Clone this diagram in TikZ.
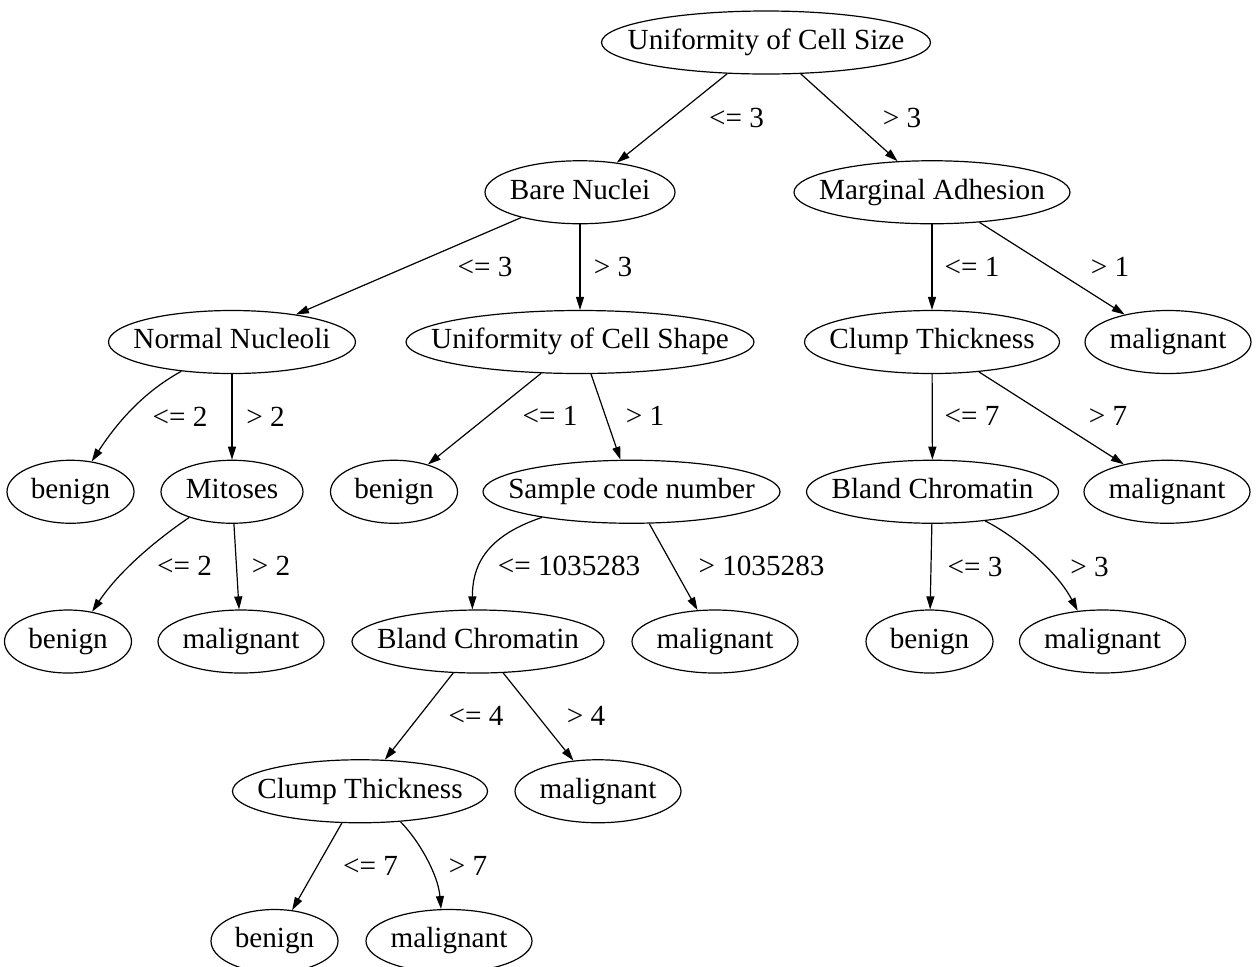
\documentclass[tikz,border=0pt]{standalone}
\usepackage{fontspec}
\setmainfont{Liberation Serif}
\usetikzlibrary{arrows.meta,shapes.geometric}

\begin{document}
\begin{tikzpicture}[x=0.5pt,y=-0.5pt,
  font=\fontsize{14.6}{17}\selectfont,
  tn/.style={ellipse,draw,line width=0.6pt,inner sep=0pt,minimum height=31.5pt,minimum width=#1,
    execute at begin node={\hbox to 0pt\bgroup\hss\strut},execute at end node={\hss\egroup}},
  benign/.style={tn=63.5pt},
  malignant/.style={tn=83pt},
  branch/.style={line width=0.6pt,-{Triangle[length=6.5pt,width=4pt]}}]
\useasboundingbox (0,0) rectangle (1258,966);
% level 0
\node[tn=164.5pt] (size) at (766,42.5) {Uniformity of Cell Size};
% level 1
\node[tn=95pt] (bare) at (580,192.25) {Bare Nuclei};
\node[tn=138pt] (adhes) at (932,192.25) {Marginal Adhesion};
% level 2
\node[tn=123.5pt] (nucleoli) at (232,342) {Normal Nucleoli};
\node[tn=174pt] (shape) at (580,342) {Uniformity of Cell Shape};
\node[tn=127.5pt] (clumpA) at (932,342) {Clump Thickness};
\node[malignant] (m1) at (1168,342) {malignant};
% level 3
\node[benign] (b1) at (70.5,491.75) {benign};
\node[tn=71pt] (mitoses) at (232,491.75) {Mitoses};
\node[benign] (b2) at (394,491.75) {benign};
\node[tn=148.5pt] (sample) at (631.5,491.75) {Sample code number};
\node[tn=126pt] (blandA) at (932.5,491.75) {Bland Chromatin};
\node[malignant] (m2) at (1167,491.75) {malignant};
% level 4
\node[benign] (b3) at (68,641.5) {benign};
\node[malignant] (m3) at (241,641.5) {malignant};
\node[tn=126pt] (blandB) at (478,641.5) {Bland Chromatin};
\node[malignant] (m4) at (715,641.5) {malignant};
\node[benign] (b4) at (929.5,641.5) {benign};
\node[malignant] (m5) at (1102.5,641.5) {malignant};
% level 5
\node[tn=127.5pt] (clumpB) at (360,791.25) {Clump Thickness};
\node[malignant] (m6) at (598,791.25) {malignant};
% level 6
\node[benign] (b5) at (274.5,941) {benign};
\node[malignant] (m7) at (449,941) {malignant};

% branches
\draw[branch] (size) -- (bare);
\draw[branch] (size) -- (adhes);
\draw[branch] (bare) -- (nucleoli);
\draw[branch] (bare) -- (shape);
\draw[branch] (adhes) -- (clumpA);
\draw[branch] (adhes) -- (m1);
\draw[branch] (nucleoli.210) .. controls +(-27,15) and +(34,-52) .. (b1.55);
\draw[branch] (nucleoli) -- (mitoses);
\draw[branch] (shape) -- (b2);
\draw[branch] (shape) -- (sample);
\draw[branch] (clumpA) -- (blandA);
\draw[branch] (clumpA) -- (m2);
\draw[branch] (mitoses.211) .. controls +(-25,17) and +(30,-45) .. (b3.51);
\draw[branch] (mitoses) -- (m3);
\draw[branch] (sample.196) .. controls +(-60,20) and +(0,-40) .. (blandB.100);
\draw[branch] (sample) -- (m4);
\draw[branch] (blandA) -- (b4);
\draw[branch] (blandA.331) .. controls +(28,14) and +(-22,-42) .. (m5.129);
\draw[branch] (blandB) -- (clumpB);
\draw[branch] (blandB) -- (m6);
\draw[branch] (clumpB) -- (b5);
\draw[branch] (clumpB.323) .. controls +(18,18) and +(-3,-35) .. (m7.104);

% split values
\node (sizeLe) at (736.5,118) {<= 3};
\node (sizeGt) at (902,118) {> 3};
\node (bareLe) at (485,267) {<= 3};
\node (bareGt) at (613,267) {> 3};
\node (adhesLe) at (972,267) {<= 1};
\node (adhesGt) at (1110,267) {> 1};
\node (nucleoliLe) at (180,417) {<= 2};
\node (nucleoliGt) at (265.5,417) {> 2};
\node (shapeLe) at (550,416) {<= 1};
\node (shapeGt) at (645,416) {> 1};
\node (clumpALe) at (972,416) {<= 7};
\node (clumpAGt) at (1108,416) {> 7};
\node (mitosesLe) at (184.5,566) {<= 2};
\node (mitosesGt) at (271,566) {> 2};
\node (sampleLe) at (569,566) {<= 1035283};
\node (sampleGt) at (761.5,566) {> 1035283};
\node (blandALe) at (975,567) {<= 3};
\node (blandAGt) at (1089.5,567) {> 3};
\node (blandBLe) at (476,716) {<= 4};
\node (blandBGt) at (586,716) {> 4};
\node (clumpBLe) at (370.5,866) {<= 7};
\node (clumpBGt) at (468,866) {> 7};
\end{tikzpicture}
\end{document}
